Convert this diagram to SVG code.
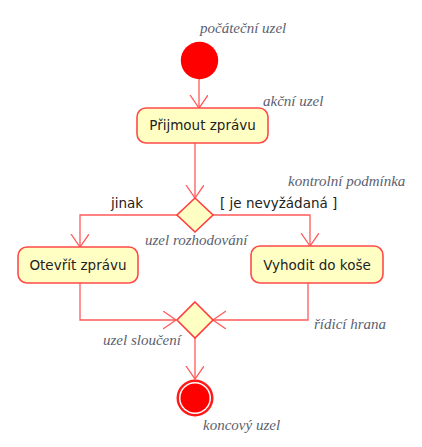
<svg xmlns="http://www.w3.org/2000/svg" width="422" height="447" viewBox="0 0 422 447">
<style>
.edge{fill:none;stroke:#ff5a5a;stroke-width:1.3}
.head{fill:none;stroke:#ff5a5a;stroke-width:1.3}
.act{fill:#ffffc4;stroke:#ff4a4a;stroke-width:1.6}
.dia{fill:#ffffc4;stroke:#ff3c3c;stroke-width:1.6}
.lbl{font-family:"DejaVu Sans",sans-serif;font-size:13.5px;fill:#222}
.note{font-family:"Liberation Serif","DejaVu Serif",serif;font-style:italic;font-size:15px;fill:#5a5f70}
</style>
<defs>
<marker id="arr" markerWidth="20" markerHeight="20" refX="13" refY="9" orient="auto" markerUnits="userSpaceOnUse">
<path d="M0,0 L13,9 L0,18" class="head"/>
</marker>
</defs>
<rect width="422" height="447" fill="#fff"/>
<g id="connectors">
<path class="edge" d="M199,79 V108" marker-end="url(#arr)"/>
<path class="edge" d="M195,143 V198" marker-end="url(#arr)"/>
<path class="edge" d="M177,215 H80 V247" marker-end="url(#arr)"/>
<path class="edge" d="M213,215 H310 V246" marker-end="url(#arr)"/>
<path class="edge" d="M80,283 V320 H176" marker-end="url(#arr)"/>
<path class="edge" d="M308,283 V320 H213" marker-end="url(#arr)"/>
<path class="edge" d="M195,338 V379" marker-end="url(#arr)"/>
</g>
<g id="start">
<circle cx="199.5" cy="60.5" r="18.7" fill="#ff0000"/>
<text class="note" x="200" y="33">počáteční uzel</text>
</g>
<g id="prijmout">
<rect class="act" x="137" y="108" width="131" height="35" rx="9"/>
<text class="lbl" x="202.5" y="130" text-anchor="middle">Přijmout zprávu</text>
<text class="note" x="263" y="106">akční uzel</text>
</g>
<g id="decision">
<path class="dia" d="M195,198 L213,215 L195,232 L177,215 Z"/>
<text class="note" x="145" y="245">uzel rozhodování</text>
<text class="note" x="288" y="186">kontrolní podmínka</text>
<text class="lbl" x="111" y="208">jinak</text>
<text class="lbl" x="220" y="208">[ je nevyžádaná ]</text>
</g>
<g id="otevrit">
<rect class="act" x="18" y="247" width="120" height="36" rx="9"/>
<text class="lbl" x="78" y="270" text-anchor="middle">Otevřít zprávu</text>
</g>
<g id="vyhodit">
<rect class="act" x="251" y="246" width="132" height="37" rx="9"/>
<text class="lbl" x="317" y="270" text-anchor="middle">Vyhodit do koše</text>
</g>
<g id="merge">
<path class="dia" d="M195,302 L213,320 L195,338 L177,320 Z"/>
<text class="note" x="103" y="345">uzel sloučení</text>
<text class="note" x="314" y="329">řídicí hrana</text>
</g>
<g id="end">
<circle cx="195" cy="398" r="18.5" fill="#ff1a1a"/>
<circle cx="195" cy="398" r="16" fill="#fff"/>
<circle cx="195" cy="398" r="14.5" fill="#ff0000"/>
<text class="note" x="203" y="430">koncový uzel</text>
</g>
</svg>
